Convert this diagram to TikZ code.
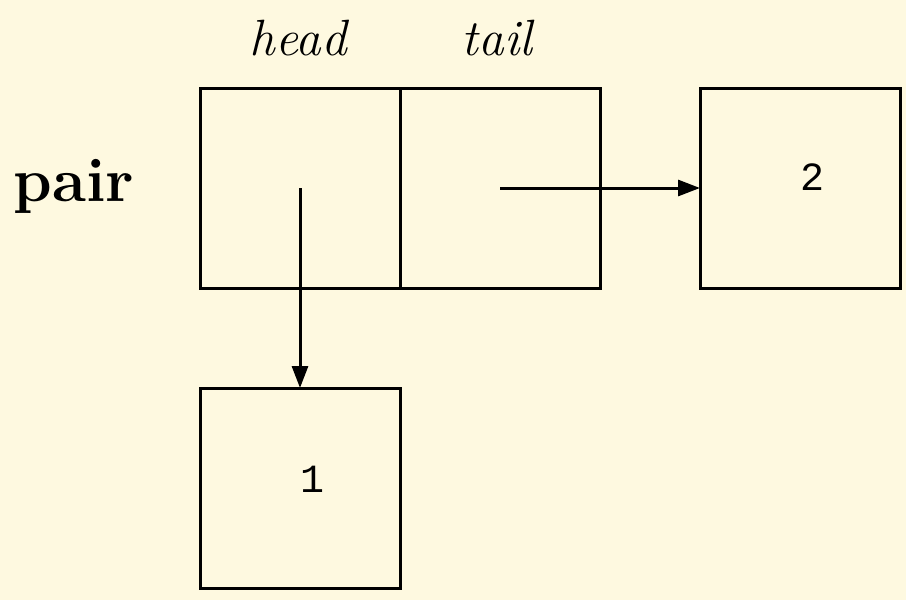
\documentclass[tikz,border=0pt]{standalone}
\usepackage{fontspec}
\newfontfamily\monofont{Liberation Mono}
\usetikzlibrary{arrows.meta}
\definecolor{bgcream}{RGB}{254,249,224}
\begin{document}
\begin{tikzpicture}[x=1pt,y=-1pt,
  cell/.style={draw=black,line width=3pt,minimum width=200pt,minimum height=200pt,inner sep=0pt,outer sep=0pt},
  ptr/.style={line width=3pt,-{Triangle[length=22pt,width=16pt]}},
  fieldlbl/.style={font=\fontsize{51}{55}\selectfont\itshape,inner sep=0pt},
  numlbl/.style={font=\fontsize{40}{44}\selectfont\monofont,inner sep=0pt}]
\fill[bgcream] (0,0) rectangle (906,600);
\useasboundingbox (0,0) rectangle (906,600);
\node[cell] (headcell) at (300,188) {};
\node[cell] (tailcell) at (500,188) {};
\node[cell] (box2) at (800,188) {};
\node[cell] (box1) at (300,488) {};
\node[fieldlbl] (headlbl) at (298,38) {head};
\node[fieldlbl] (taillbl) at (497,38) {tail};
\node[font=\fontsize{62}{66}\selectfont\bfseries,inner sep=0pt] (pairlbl) at (74,186) {pair};
\node[numlbl] (num2) at (812,177) {2};
\node[numlbl] (num1) at (312,479) {1};
\draw[ptr] (headcell.center) -- (box1.north);
\draw[ptr] (tailcell.center) -- (box2.west);
\end{tikzpicture}
\end{document}
